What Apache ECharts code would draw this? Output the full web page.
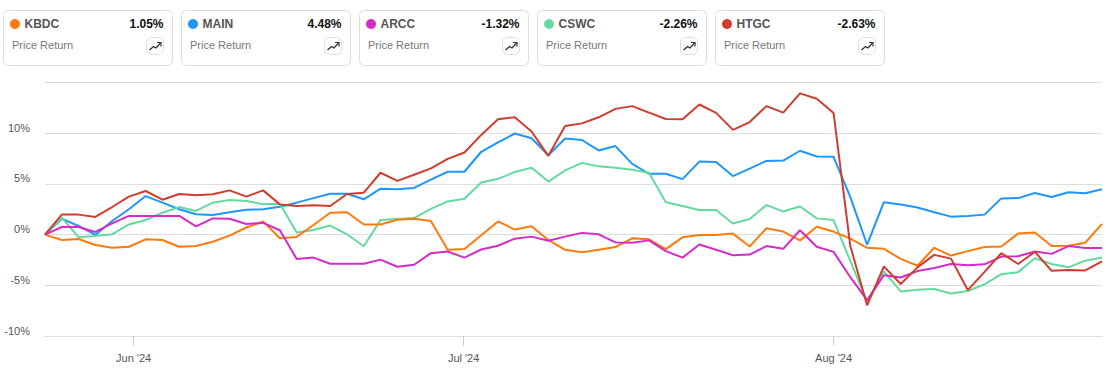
<!DOCTYPE html>
<html>
<head>
<meta charset="utf-8">
<style>html,body{margin:0;padding:0;background:#fff}#c{width:1110px;height:372px}</style>
<script src="https://cdn.jsdelivr.net/npm/echarts@6/dist/echarts.min.js"></script>
</head>
<body>
<div id="c"></div>
<script>
const KBDC = [0,-0.53,-0.43,-1.03,-1.3,-1.2,-0.47,-0.53,-1.2,-1.13,-0.7,-0.1,0.7,1.3,-0.36,-0.23,0.95,2.15,2.2,1.0,1.0,1.47,1.57,1.33,-1.5,-1.43,-0.07,1.3,0.5,0.83,-0.53,-1.5,-1.73,-1.5,-1.23,-0.37,-0.47,-1.43,-0.27,-0.03,-0.03,0.1,-1.17,0.63,0.3,-0.57,0.77,0.3,-0.4,-1.3,-1.4,-2.4,-3.07,-1.3,-2.07,-1.63,-1.23,-1.17,0.1,0.2,-1.13,-1.1,-0.8,1.05];
const MAIN = [0,1.57,0.85,-0.03,1.34,2.5,3.8,3.15,2.5,2.0,1.93,2.2,2.46,2.5,2.75,3.15,3.6,4.03,4.03,3.48,4.53,4.47,4.6,5.43,6.2,6.2,8.17,9.1,9.97,9.5,7.83,9.47,9.33,8.3,8.73,6.97,6.0,6.0,5.47,7.2,7.17,5.77,6.5,7.27,7.3,8.27,7.7,7.67,3.7,-1.0,3.2,2.97,2.67,2.2,1.77,1.83,1.97,3.57,3.6,4.1,3.7,4.17,4.07,4.48];
const ARCC = [0,0.75,0.75,0.26,1.11,1.84,1.84,1.84,1.84,0.82,1.6,1.57,1.05,1.15,0.43,-2.4,-2.27,-2.87,-2.87,-2.87,-2.47,-3.17,-2.97,-1.83,-1.67,-2.27,-1.47,-1.1,-0.4,-0.2,-0.6,-0.2,0.17,0.03,-0.77,-0.8,-0.57,-1.63,-2.27,-0.97,-1.5,-2.03,-1.97,-1.13,-1.4,0.43,-1.2,-1.7,-4.2,-6.47,-4.0,-4.23,-3.6,-3.3,-2.9,-3.03,-2.93,-2.17,-2.13,-1.67,-1.9,-1.13,-1.33,-1.32];
const CSWC = [0,1.67,-0.26,-0.13,0.03,1.0,1.44,2.16,2.72,2.33,3.15,3.41,3.31,3.0,3.05,0.2,0.46,0.89,0.03,-1.15,1.43,1.53,1.63,2.53,3.27,3.53,5.13,5.5,6.17,6.6,5.23,6.33,7.07,6.73,6.6,6.4,6.1,3.2,2.83,2.43,2.43,1.1,1.53,2.93,2.27,2.77,1.6,1.43,-2.6,-6.63,-3.63,-5.6,-5.43,-5.37,-5.8,-5.57,-4.9,-3.9,-3.7,-2.33,-2.9,-3.23,-2.57,-2.26];
const HTGC = [0,1.97,1.97,1.74,2.72,3.74,4.3,3.44,4.0,3.87,3.97,4.36,3.74,4.36,2.98,2.82,2.89,2.82,4.0,4.13,6.1,5.3,5.9,6.53,7.47,8.1,9.83,11.37,11.57,10.17,7.77,10.7,10.97,11.57,12.4,12.67,12.03,11.4,11.37,12.83,12.0,10.33,11.1,12.67,12.03,13.93,13.4,12.0,-1.13,-6.97,-3.13,-4.87,-3.23,-2.0,-2.37,-5.47,-3.67,-1.83,-2.9,-1.7,-3.57,-3.5,-3.53,-2.63];

const tickers = ['KBDC','MAIN','ARCC','CSWC','HTGC'];
const returns = ['1.05%','4.48%','-1.32%','-2.26%','-2.63%'];
const colors = ['#ff7a0d','#1e96fc','#d62bc5','#66d9a0','#cf3d2e'];
const cardLabel = 'Price Return';
const monthTicks = [5.28, 24.95, 47];
const monthLabels = ["Jun '24", "Jul '24", "Aug '24"];
const valuesByTicker = {KBDC, MAIN, ARCC, CSWC, HTGC};
const drawOrder = ['MAIN','CSWC','KBDC','ARCC','HTGC'];

const FONT = '"Liberation Sans", Arial, sans-serif';
const graphics = [];
tickers.forEach((t, i) => {
  const x0 = 3.5 + 178 * i;
  graphics.push(
    {type:'rect', silent:true, shape:{x:x0, y:10.5, width:169, height:55, r:5}, style:{fill:'#fff', stroke:'#ddd', lineWidth:1}},
    {type:'circle', silent:true, shape:{cx:x0+11.5, cy:24, r:5}, style:{fill:colors[i]}},
    {type:'text', silent:true, style:{x:x0+21, y:24, text:t, fill:'#555', font:'bold 12px '+FONT, textVerticalAlign:'middle'}},
    {type:'text', silent:true, style:{x:x0+160, y:24, text:returns[i], fill:'#111', font:'bold 12px '+FONT, textAlign:'right', textVerticalAlign:'middle'}},
    {type:'text', silent:true, style:{x:x0+8.5, y:45, text:cardLabel, fill:'#777', font:'11px '+FONT, textVerticalAlign:'middle'}},
    {type:'rect', silent:true, shape:{x:x0+143, y:37.5, width:17, height:17, r:5}, style:{fill:'#fff', stroke:'#ddd', lineWidth:1}},
    {type:'polyline', silent:true, shape:{points:[[x0+146,50],[x0+150,46.5],[x0+152.5,48],[x0+157,43]]}, style:{fill:'none', stroke:'#333', lineWidth:1.3}},
    {type:'polyline', silent:true, shape:{points:[[x0+153.5,42.5],[x0+157.5,42.5],[x0+157.5,46.5]]}, style:{fill:'none', stroke:'#333', lineWidth:1.2}}
  );
});

const chart = echarts.init(document.getElementById('c'), null, {renderer:'svg', width:1110, height:372});
chart.setOption({
  animation:false,
  backgroundColor:'#fff',
  graphic:graphics,
  grid:{left:45, right:8, top:82.5, bottom:36, containLabel:false},
  xAxis:{
    type:'value', min:0, max:63,
    splitLine:{show:false},
    axisLine:{show:true, onZero:false, lineStyle:{color:'#ddd', width:1}},
    axisTick:{show:true, length:10, inside:false, lineStyle:{color:'#ccc', width:1}, customValues:monthTicks},
    axisLabel:{
      customValues:monthTicks, margin:16, fontSize:11, color:'#555', fontFamily:FONT,
      formatter:v => monthLabels[monthTicks.indexOf(v)] ?? ''
    }
  },
  yAxis:{
    type:'value', min:-10, max:15, interval:5,
    axisLine:{show:false}, axisTick:{show:false},
    splitLine:{show:true, lineStyle:{color:'#ddd', width:1}},
    axisLabel:{
      fontSize:11, color:'#555', fontFamily:FONT, margin:15, verticalAlign:'bottom',
      formatter:v => v === 15 ? '' : v + '%'
    }
  },
  series:drawOrder.map(t => ({
    type:'line', name:t, showSymbol:false, symbol:'none', smooth:false,
    data:valuesByTicker[t].map((v, i) => [i, v]),
    lineStyle:{width:2, color:colors[tickers.indexOf(t)]},
    itemStyle:{color:colors[tickers.indexOf(t)]}
  }))
});
</script>
</body>
</html>
